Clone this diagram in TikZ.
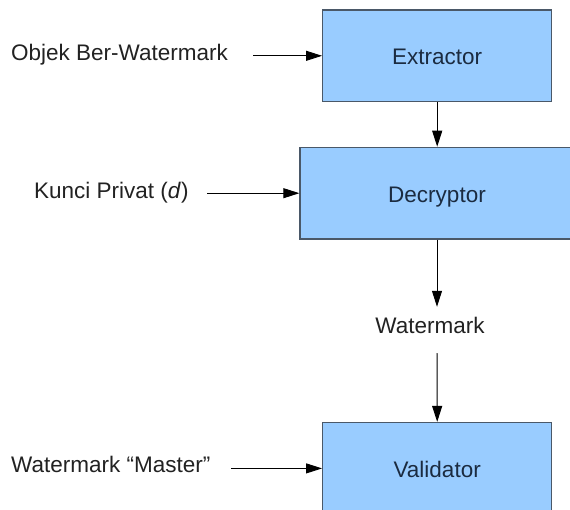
\documentclass[tikz,border=0pt]{standalone}
\usepackage{fontspec}
\setmainfont{Liberation Sans}
\usetikzlibrary{arrows.meta}
\definecolor{boxfill}{HTML}{99CCFF}
\definecolor{boxline}{HTML}{4A5868}
\definecolor{boxtext}{HTML}{1B2B40}
\definecolor{labtext}{HTML}{222222}
\begin{document}
\begin{tikzpicture}[x=1pt,y=-1pt,
  font=\fontsize{22.5}{27}\selectfont,
  blk/.style={draw=boxline, fill=boxfill, line width=1.3pt, text=boxtext,
    minimum height=91.7pt, text height=18pt, text depth=0pt, inner sep=0pt},
  lab/.style={text=labtext, inner sep=0pt, anchor=base west},
  arr/.style={-{Triangle[length=16pt,width=10pt]}, line width=0.9pt, draw=black}]
\useasboundingbox[fill=white] (0,0) rectangle (570,510);
\node[blk, minimum width=229pt] (ext) at (437.2,55.8) {Extractor};
\node[blk, minimum width=274pt] (dec) at (437,193.2) {Decryptor};
\node[blk, minimum width=229pt] (val) at (437.2,468.4) {Validator};
\node[lab] (l1) at (11,61) {Objek Ber-Watermark};
\node[lab] (l2) at (34,199) {Kunci Privat (\textit{d})};
\node[lab] (l3) at (11,472) {Watermark “Master”};
\node[text=labtext, inner sep=0pt, anchor=base, text height=16pt, text depth=0pt] (wm) at (430,334) {Watermark};
\coordinate (s1) at (253,55.8);
\coordinate (s2) at (207,193.2);
\coordinate (s3) at (231,468.4);
\draw[arr] (s1) -- (ext.west);
\draw[arr] (s2) -- (dec.west);
\draw[arr] (s3) -- (val.west);
\draw[arr] (ext.south) -- (ext.south |- dec.north);
\draw[arr, shorten >=11pt] (dec.south) -- (dec.south |- wm.north);
\draw[arr, shorten <=19pt] (dec.south |- wm.south) -- (val.north);
\end{tikzpicture}
\end{document}
